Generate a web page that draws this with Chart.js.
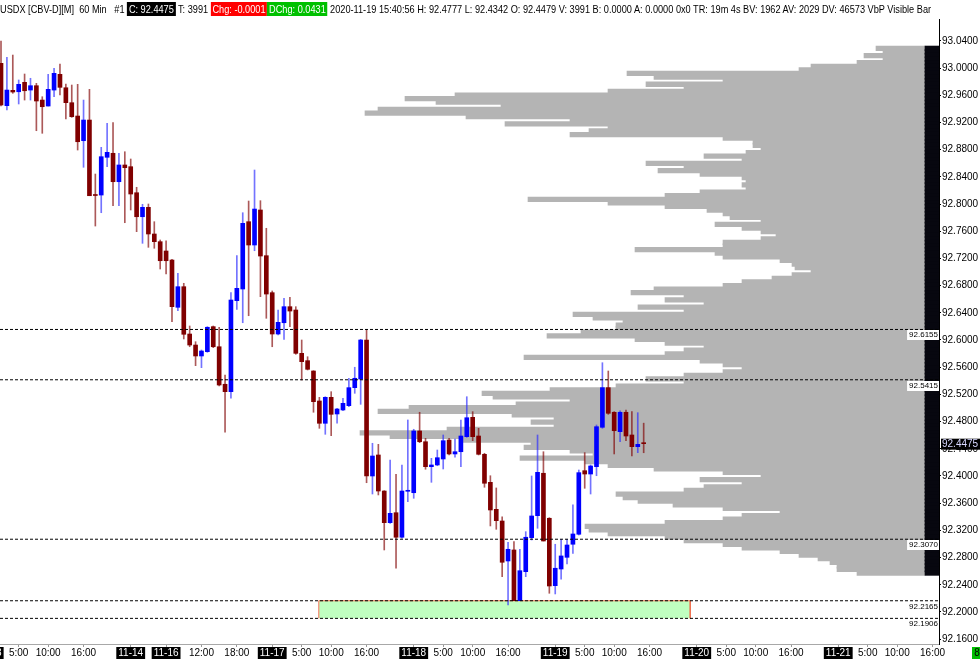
<!DOCTYPE html>
<html>
<head>
<meta charset="utf-8">
<script src="https://cdn.jsdelivr.net/npm/chart.js@4.4.0/dist/chart.umd.min.js"></script>
<style>
  html, body { margin: 0; padding: 0; background: #fff; }
  #wrap { position: relative; width: 980px; height: 659px; overflow: hidden; }
  canvas { position: absolute; left: 0; top: 0; }
  #head { position: absolute; left: 0; top: 0; width: 1075px; height: 18px; white-space: nowrap; overflow: hidden;
          font: 10.5px "Liberation Sans", Arial, sans-serif; line-height: 18px; color: #000;
          transform: scaleX(0.875); transform-origin: 0 0; }
  #head .b { padding: 1px 2px; color: #fff; }
</style>
</head>
<body>
<div id="wrap">
  <canvas id="chart" width="980" height="659"></canvas>
  <div id="head">USDX [CBV-D][M]&nbsp;&nbsp;60 Min&nbsp;&nbsp;&nbsp;#1 <span class="b" style="background:#000">C: 92.4475</span> T: 3991 <span class="b" style="background:#ff0000">Chg: -0.0001</span><span class="b" style="background:#00c000">DChg: 0.0431</span> 2020-11-19 15:40:56 H: 92.4777 L: 92.4342 O: 92.4479 V: 3991 B: 0.0000 A: 0.0000 0x0 TR: 19m 4s BV: 1962 AV: 2029 DV: 46573 VbP Visible Bar</div>
</div>
<script>
// 60 min bars, index 0 = 11-13 2:00
const opens = [93.0069, 92.9446, 92.9672, 92.9651, 92.9790, 92.9676, 92.9740, 92.9529, 92.9441, 92.9676,
  92.9907, 92.9710, 92.9490, 92.9294, 92.8931, 92.9235, 92.8135, 92.8132, 92.8687, 92.8746,
  92.8328, 92.8574, 92.8549, 92.8166, 92.7813, 92.7951, 92.7559, 92.7446, 92.7309, 92.7176,
  92.6481, 92.6784, 92.6088, 92.5926, 92.5765, 92.5828, 92.6196, 92.5901, 92.5349, 92.5240,
  92.6578, 92.6750, 92.7740, 92.7397, 92.7912, 92.7240, 92.6696, 92.6088, 92.6254, 92.6490,
  92.6441, 92.5804, 92.5696, 92.5544, 92.5103, 92.4775, 92.5157, 92.4912, 92.4971, 92.5034,
  92.5299, 92.5426, 92.6000, 92.4000, 92.4309, 92.3779, 92.3313, 92.3460, 92.3099, 92.3775,
  92.3754, 92.4662, 92.4504, 92.4137, 92.4162, 92.4250, 92.4529, 92.4324, 92.4357, 92.4578,
  92.4863, 92.4588, 92.4319, 92.3907, 92.3510, 92.3338, 92.2750, 92.2912, 92.2166, 92.2593,
  92.3093, 92.3416, 92.4040, 92.3378, 92.2387, 92.2632, 92.2804, 92.2996, 92.3143, 92.4078,
  92.4029, 92.4137, 92.4716, 92.5299, 92.4937, 92.4652, 92.4937, 92.4603, 92.4431, 92.4479];
const highs = [93.0397, 93.0157, 93.0191, 92.9824, 92.9912, 92.9849, 92.9775, 92.9578, 92.9907, 92.9996,
  93.0059, 92.9765, 92.9750, 92.9760, 92.9529, 92.9687, 92.8441, 92.8834, 92.9187, 92.9196,
  92.8746, 92.8769, 92.8662, 92.8246, 92.7996, 92.8000, 92.7740, 92.7471, 92.7460, 92.7187,
  92.6981, 92.6834, 92.6206, 92.5975, 92.5853, 92.6196, 92.6206, 92.6187, 92.5485, 92.6696,
  92.7240, 92.7872, 92.8044, 92.8500, 92.8049, 92.7643, 92.6721, 92.6441, 92.6613, 92.6628,
  92.6490, 92.6000, 92.5754, 92.5549, 92.5157, 92.5166, 92.5240, 92.4996, 92.5143, 92.5437,
  92.5599, 92.6010, 92.6157, 92.4481, 92.4466, 92.3784, 92.4235, 92.4025, 92.4162, 92.4824,
  92.4687, 92.4937, 92.4554, 92.4260, 92.4382, 92.4603, 92.4554, 92.4544, 92.4824, 92.5166,
  92.4946, 92.4701, 92.4334, 92.4004, 92.3824, 92.3401, 92.3025, 92.3034, 92.2922, 92.3181,
  92.4000, 92.4603, 92.4357, 92.3387, 92.2996, 92.3069, 92.3069, 92.3574, 92.4088, 92.4343,
  92.4162, 92.4750, 92.5666, 92.5544, 92.4946, 92.4960, 92.4971, 92.4946, 92.4931, 92.4777];
const lows = [92.9441, 92.9382, 92.9628, 92.9471, 92.9529, 92.9529, 92.9078, 92.9040, 92.9441, 92.9578,
  92.9603, 92.9250, 92.9275, 92.8794, 92.8540, 92.8122, 92.7676, 92.7872, 92.8549, 92.7975,
  92.7975, 92.7725, 92.7912, 92.7593, 92.7422, 92.7363, 92.7349, 92.7044, 92.6971, 92.6269,
  92.6431, 92.6015, 92.5901, 92.5622, 92.5593, 92.5819, 92.5887, 92.5324, 92.4643, 92.5143,
  92.6451, 92.6254, 92.6357, 92.7313, 92.6637, 92.6319, 92.5901, 92.6074, 92.6010, 92.6196,
  92.5790, 92.5412, 92.5559, 92.4937, 92.4701, 92.4613, 92.4593, 92.4775, 92.4960, 92.5019,
  92.5216, 92.5054, 92.3901, 92.3735, 92.3721, 92.2912, 92.3304, 92.2643, 92.3084, 92.3622,
  92.3672, 92.4490, 92.4099, 92.3907, 92.4151, 92.4103, 92.4309, 92.4275, 92.4137, 92.4569,
  92.4519, 92.4309, 92.3834, 92.3265, 92.3216, 92.2519, 92.2103, 92.2166, 92.2166, 92.2519,
  92.3059, 92.3231, 92.3044, 92.2275, 92.2265, 92.2481, 92.2706, 92.2863, 92.3132, 92.3819,
  92.3735, 92.4004, 92.4701, 92.4907, 92.4324, 92.4504, 92.4519, 92.4294, 92.4343, 92.4342];
const closes = [92.9456, 92.9676, 92.9647, 92.9760, 92.9666, 92.9740, 92.9515, 92.9431, 92.9687, 92.9922,
  92.9716, 92.9490, 92.9284, 92.8916, 92.9235, 92.8122, 92.8125, 92.8696, 92.8760, 92.8328,
  92.8574, 92.8534, 92.8147, 92.7813, 92.7951, 92.7559, 92.7446, 92.7166, 92.7166, 92.6490,
  92.6784, 92.6084, 92.5926, 92.5765, 92.5838, 92.6187, 92.5901, 92.5338, 92.5240, 92.6588,
  92.6760, 92.7716, 92.7397, 92.7926, 92.7235, 92.6676, 92.6088, 92.6260, 92.6490, 92.6426,
  92.5804, 92.5681, 92.5569, 92.5093, 92.4775, 92.5157, 92.4907, 92.4985, 92.5069, 92.5299,
  92.5437, 92.6000, 92.4000, 92.4294, 92.3779, 92.3313, 92.3451, 92.3099, 92.3779, 92.3778,
  92.4662, 92.4504, 92.4137, 92.4162, 92.4269, 92.4519, 92.4324, 92.4357, 92.4588, 92.4857,
  92.4578, 92.4319, 92.3893, 92.3500, 92.3343, 92.2731, 92.2922, 92.2166, 92.2607, 92.3099,
  92.3412, 92.4054, 92.3044, 92.2382, 92.2643, 92.2824, 92.2985, 92.3147, 92.4049, 92.4029,
  92.4147, 92.4725, 92.5299, 92.4922, 92.4666, 92.4937, 92.4588, 92.4431, 92.4466, 92.4475];

const levels = [92.6155, 92.5415, 92.3070, 92.2165, 92.1906];
const zoneFrom = 53.9, zoneTo = 116.9, zoneLow = 92.1906, zoneHigh = 92.2165;

// volume by price (visible bars)
const profilePrices = [93.0706, 93.0648, 93.0590, 93.0532, 93.0473, 93.0415, 93.0357, 93.0299, 93.0241, 93.0183,
  93.0125, 93.0066, 93.0008, 92.9950, 92.9892, 92.9834, 92.9776, 92.9718, 92.9659, 92.9601,
  92.9543, 92.9485, 92.9427, 92.9369, 92.9311, 92.9252, 92.9194, 92.9136, 92.9078, 92.9020,
  92.8962, 92.8904, 92.8845, 92.8787, 92.8729, 92.8671, 92.8613, 92.8555, 92.8497, 92.8438,
  92.8380, 92.8322, 92.8264, 92.8206, 92.8148, 92.8090, 92.8031, 92.7973, 92.7915, 92.7857,
  92.7799, 92.7741, 92.7683, 92.7624, 92.7566, 92.7508, 92.7450, 92.7392, 92.7334, 92.7276,
  92.7217, 92.7159, 92.7101, 92.7043, 92.6985, 92.6927, 92.6869, 92.6810, 92.6752, 92.6694,
  92.6636, 92.6578, 92.6520, 92.6462, 92.6403, 92.6345, 92.6287, 92.6229, 92.6171, 92.6113,
  92.6055, 92.5996, 92.5938, 92.5880, 92.5822, 92.5764, 92.5706, 92.5648, 92.5589, 92.5531,
  92.5473, 92.5415, 92.5357, 92.5299, 92.5241, 92.5182, 92.5124, 92.5066, 92.5008, 92.4950,
  92.4892, 92.4834, 92.4775, 92.4717, 92.4659, 92.4601, 92.4543, 92.4485, 92.4427, 92.4368,
  92.4310, 92.4252, 92.4194, 92.4136, 92.4078, 92.4020, 92.3961, 92.3903, 92.3845, 92.3787,
  92.3729, 92.3671, 92.3613, 92.3554, 92.3496, 92.3438, 92.3380, 92.3322, 92.3264, 92.3206,
  92.3147, 92.3089, 92.3031, 92.2973, 92.2915, 92.2857, 92.2799, 92.2740, 92.2682, 92.2624,
  92.2566, 92.2508, 92.2450, 92.2392, 92.2333, 92.2275, 92.2217];
const profileVolume = [49, 42, 61, 42, 68, 114, 126, 298, 271, 202,
  279, 241, 317, 470, 520, 489, 424, 547, 560, 459,
  355, 420, 317, 336, 355, 202, 172, 172, 164, 179,
  221, 183, 279, 241, 267, 225, 183, 179, 183, 179,
  225, 260, 397, 317, 260, 218, 202, 195, 164, 210,
  183, 164, 149, 164, 202, 202, 290, 210, 202, 145,
  133, 130, 114, 133, 153, 183, 202, 271, 294, 241,
  260, 221, 287, 241, 352, 332, 302, 309, 309, 344,
  378, 290, 260, 221, 241, 260, 401, 225, 202, 183,
  202, 241, 279, 241, 309, 375, 443, 432, 355, 409,
  516, 547, 413, 371, 394, 371, 478, 565, 535, 463,
  394, 401, 355, 332, 405, 340, 317, 271, 202, 164,
  225, 183, 221, 241, 309, 302, 287, 252, 202, 145,
  183, 202, 260, 340, 336, 317, 260, 241, 202, 183,
  145, 126, 107, 95, 88, 88, 68];

const yTicks = [92.16, 92.20, 92.24, 92.28, 92.32, 92.36, 92.40, 92.44, 92.48, 92.52, 92.56, 92.60,
  92.64, 92.68, 92.72, 92.76, 92.80, 92.84, 92.88, 92.92, 92.96, 93.00, 93.04];
const xTickIndex = [3, 8, 14, 22, 28, 34, 40, 46, 51, 56, 62, 70, 75, 80, 86, 94, 99, 104, 110, 118, 123, 128, 134, 142, 147, 152, 158];
const xTickText = ['5:00', '10:00', '16:00', '11-14', '11-16', '12:00', '18:00', '11-17', '5:00', '10:00', '16:00',
  '11-18', '5:00', '10:00', '16:00', '11-19', '5:00', '10:00', '16:00', '11-20', '5:00', '10:00', '16:00',
  '11-21', '5:00', '10:00', '16:00'];
const lastPrice = 92.4475;

const xMin = -0.17, xMax = 159.09;
const yMin = 92.1529, yMax = 93.0721;

Chart.defaults.font.family = '"Liberation Sans", Arial, sans-serif';

const up = i => closes[i] >= opens[i];
const bodyColors = opens.map((o, i) => up(i) ? '#0000ff' : '#800000');
const wickColors = opens.map((o, i) => up(i) ? 'rgba(40,40,255,0.65)' : 'rgba(128,0,0,0.65)');
const isDate = t => t.indexOf('-') > 0;

const overlay = {
  id: 'overlay',
  afterDatasetsDraw(chart) {
    const {ctx, scales: {x, y}} = chart;
    ctx.save();
    ctx.font = '8px "Liberation Sans"';
    ctx.textAlign = 'right';
    ctx.textBaseline = 'top';
    levels.forEach(v => {
      const py = Math.round(y.getPixelForValue(v));
      const t = v.toFixed(4);
      const w = ctx.measureText(t).width + 3;
      ctx.fillStyle = '#fff';
      ctx.fillRect(x.right - w, py + 1, w, 10);
      ctx.fillStyle = '#000';
      ctx.fillText(t, x.right - 1, py + 2);
    });
    ctx.restore();
  },
  afterDraw(chart) {
    const {ctx, scales: {x, y}} = chart;
    ctx.save();
    // current price tag
    const py = y.getPixelForValue(lastPrice);
    ctx.fillStyle = '#000';
    ctx.fillRect(x.right + 2, py - 5, 40, 11);
    ctx.fillStyle = '#d8d8ff';
    ctx.font = '10px "Liberation Sans"';
    ctx.textAlign = 'left';
    ctx.textBaseline = 'middle';
    ctx.fillText(lastPrice.toFixed(4), x.right + 3, py + 0.5);
    // cut-off date label on the left
    const px = x.getPixelForValue(-2);
    ctx.textAlign = 'center';
    const w = ctx.measureText('11-13').width + 4;
    ctx.fillStyle = '#000';
    ctx.fillRect(px - w / 2, 647, w, 12);
    ctx.fillStyle = '#fff';
    ctx.fillText('11-13', px, 653);
    // bar counter
    ctx.fillStyle = '#00c000';
    ctx.fillRect(972, 647, 8, 12);
    ctx.fillStyle = '#000';
    ctx.fillText('8', 977, 653);
    ctx.restore();
  }
};

new Chart(document.getElementById('chart'), {
  type: 'bar',
  data: {
    datasets: [
      ...levels.map(v => ({
        type: 'line', order: 0,
        data: [{x: xMin, y: v}, {x: xMax, y: v}],
        borderColor: '#000', borderWidth: 1, borderDash: [3, 2],
        pointRadius: 0, fill: false
      })),
      {
        type: 'line', order: 8,
        data: [{x: zoneFrom, y: zoneLow}, {x: zoneFrom, y: zoneHigh}, {x: zoneTo, y: zoneHigh}, {x: zoneTo, y: zoneLow}],
        borderColor: '#f07050', borderWidth: 1, backgroundColor: '#c0ffc0',
        pointRadius: 0, tension: 0, fill: {value: zoneLow}
      },
      {
        order: 2, grouped: false, barThickness: 1,
        data: opens.map((o, i) => ({x: i, y: [lows[i], highs[i]]})),
        backgroundColor: wickColors
      },
      {
        order: 1, grouped: false, barThickness: 4, minBarLength: 1,
        data: opens.map((o, i) => ({x: i, y: [Math.min(o, closes[i]), Math.max(o, closes[i])]})),
        backgroundColor: bodyColors
      },
      {
        order: 10, indexAxis: 'y', xAxisID: 'xp', yAxisID: 'yp', grouped: false, barThickness: 4.6,
        data: profilePrices.map((p, i) => ({y: p, x: [0, profileVolume[i]]})),
        backgroundColor: '#b4b4b4'
      },
      {
        order: 9, indexAxis: 'y', xAxisID: 'xp', yAxisID: 'yp', grouped: false, barThickness: 4.6,
        data: profilePrices.map(p => ({y: p, x: [-14, 0]})),
        backgroundColor: '#07070f'
      }
    ]
  },
  options: {
    responsive: false,
    animation: false,
    layout: {padding: {top: 19, left: 0, right: 0, bottom: 0}},
    plugins: {legend: {display: false}, tooltip: {enabled: false}},
    scales: {
      x: {
        type: 'linear', position: 'bottom', min: xMin, max: xMax, offset: false,
        afterBuildTicks: s => { s.ticks = xTickIndex.map(v => ({value: v})); },
        afterFit: s => { s.height = 15; },
        grid: {drawOnChartArea: false, offset: false, tickLength: 3, color: '#999'},
        border: {color: '#a8a8a8'},
        ticks: {
          autoSkip: false, maxRotation: 0, padding: 1,
          font: {size: 10, lineHeight: 1},
          callback: (v, i) => xTickText[i],
          color: c => isDate(xTickText[c.index] || '') ? '#fff' : '#000',
          showLabelBackdrop: c => isDate(xTickText[c.index] || ''),
          backdropColor: '#000',
          backdropPadding: {x: 2, y: 1}
        }
      },
      y: {
        type: 'linear', position: 'right', min: yMin, max: yMax, beginAtZero: false,
        afterBuildTicks: s => { s.ticks = yTicks.map(v => ({value: v})); },
        afterFit: s => { s.width = 41; },
        grid: {drawOnChartArea: false, tickLength: 2, color: '#000'},
        border: {color: '#000'},
        ticks: {padding: 1, color: '#000', font: {size: 10}, callback: v => v.toFixed(4)}
      },
      xp: {axis: 'x', type: 'linear', display: false, reverse: true, min: -14, max: 925, offset: false, grid: {offset: false}},
      yp: {axis: 'y', type: 'linear', display: false, min: yMin, max: yMax, beginAtZero: false}
    }
  },
  plugins: [overlay]
});
</script>
</body>
</html>
